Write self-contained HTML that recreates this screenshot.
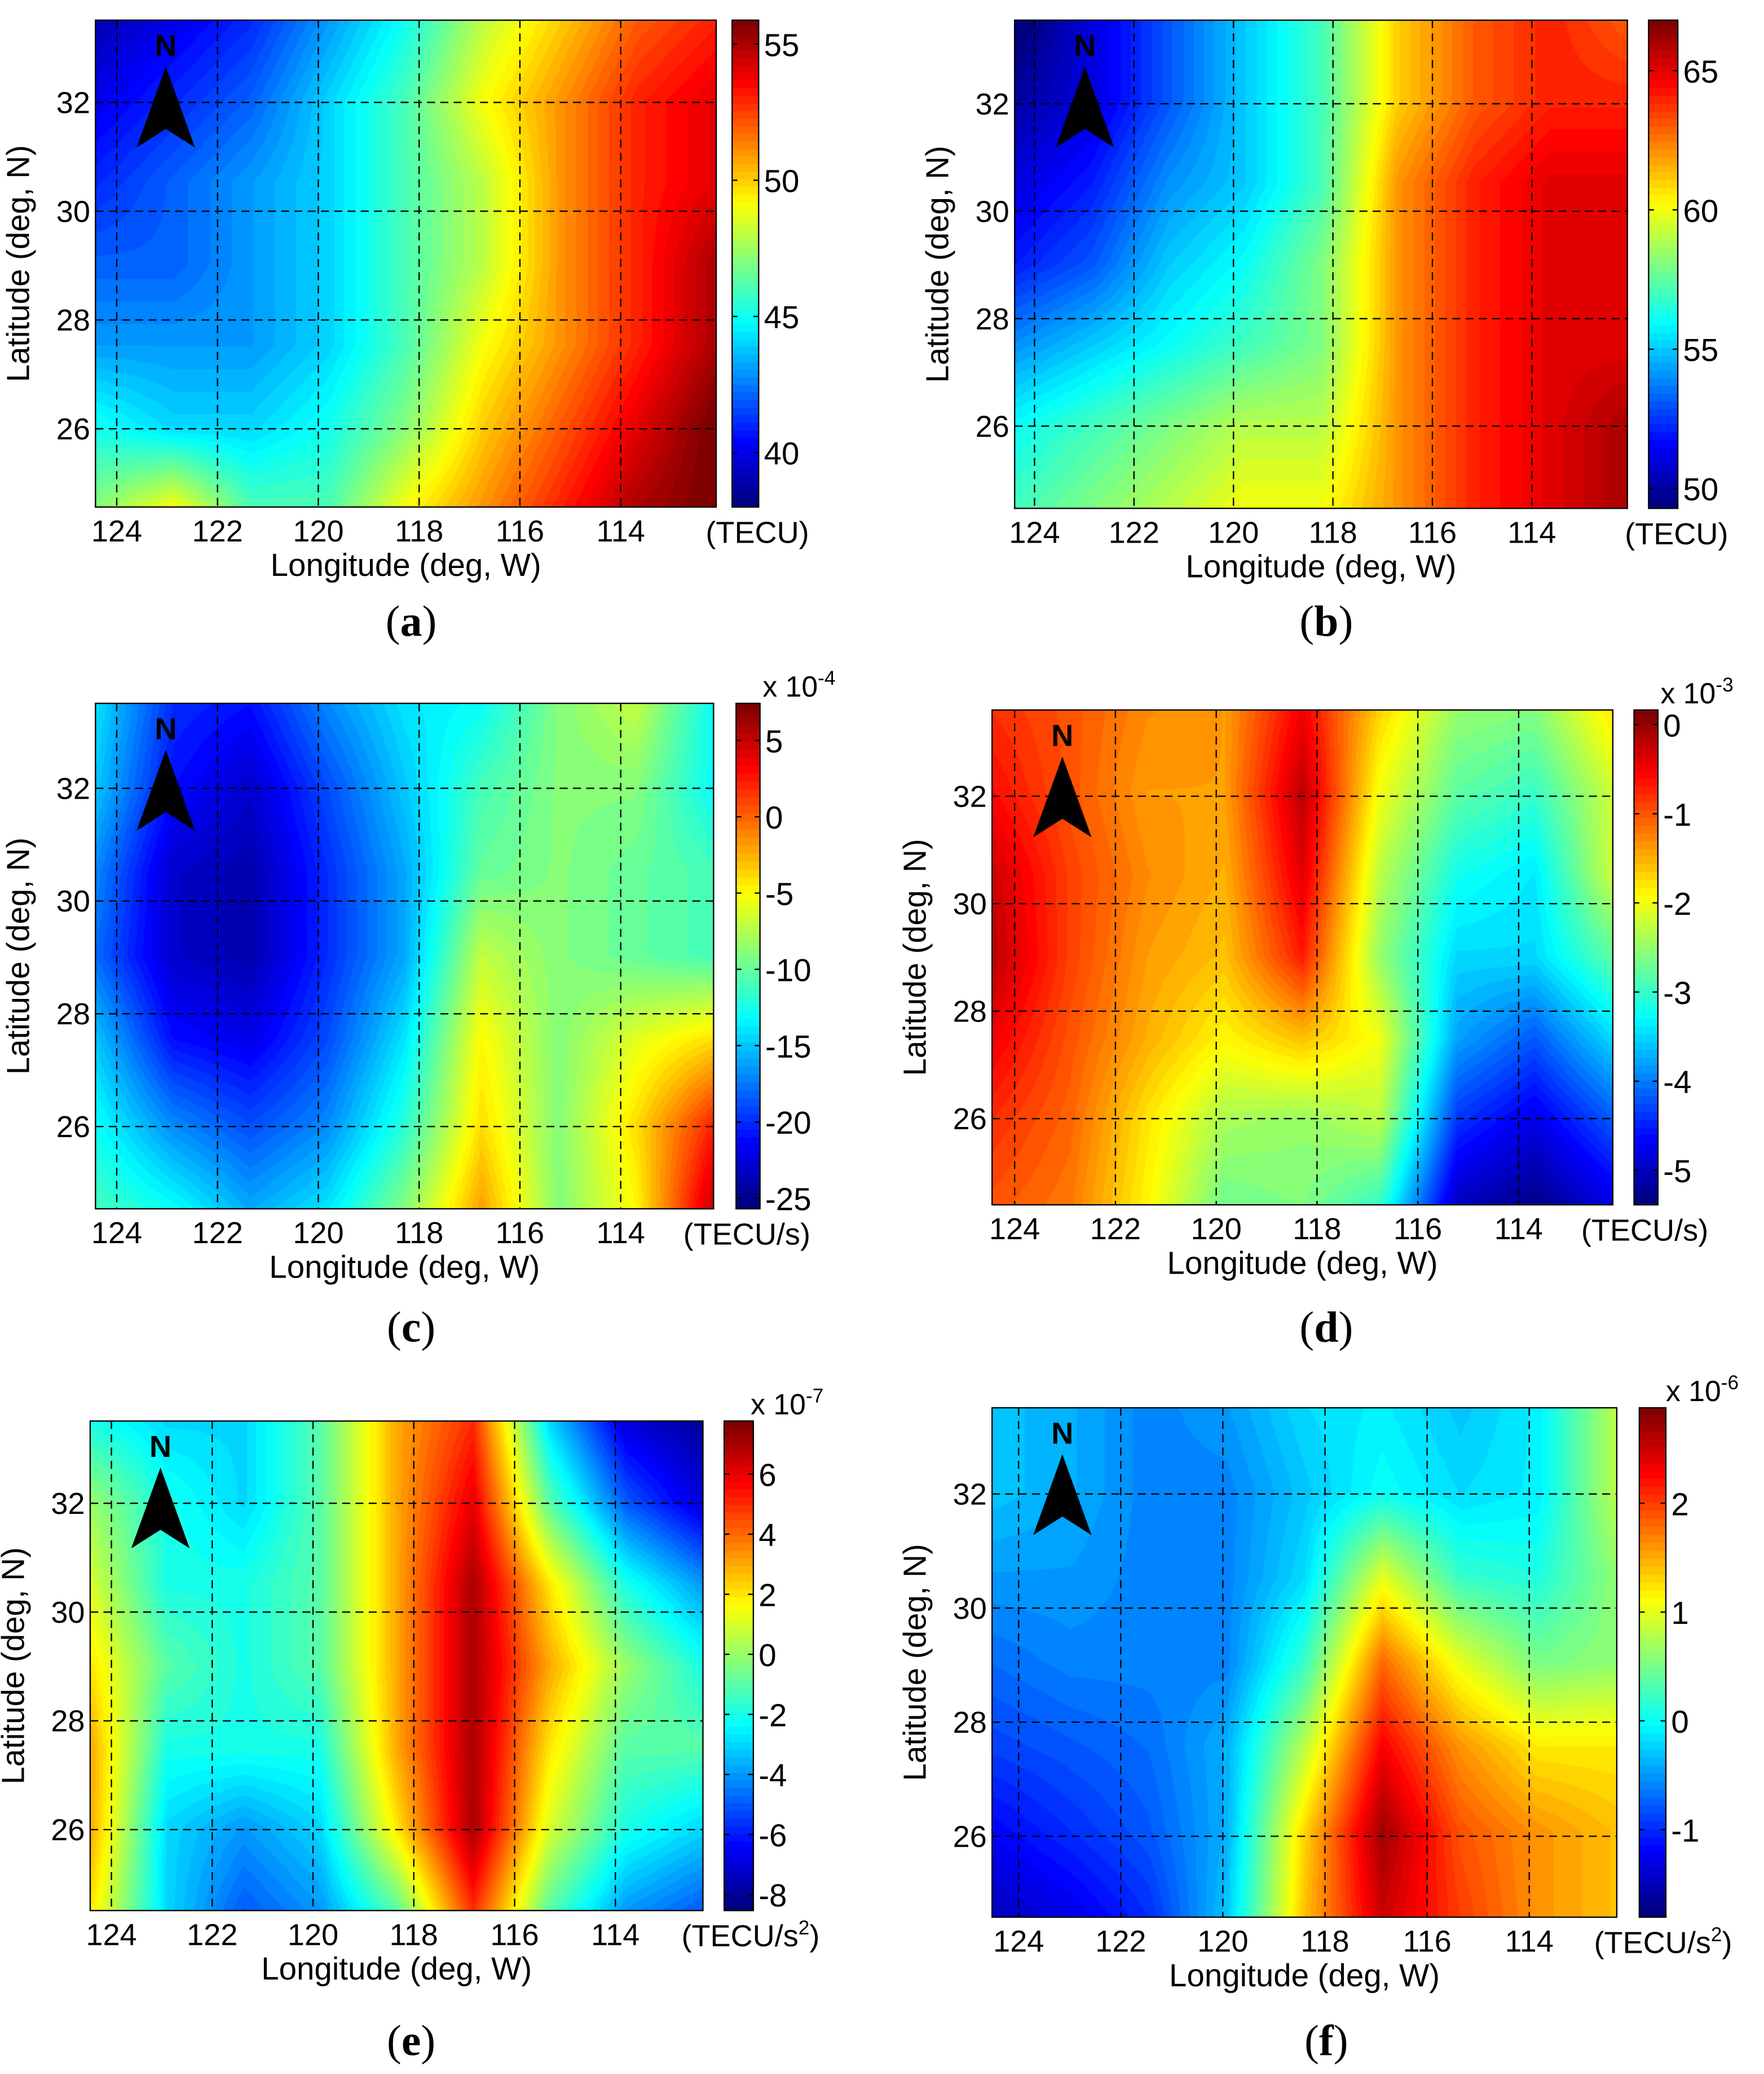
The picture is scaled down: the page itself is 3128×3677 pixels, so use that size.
<!DOCTYPE html>
<html><head><meta charset="utf-8">
<style>
html,body{margin:0;padding:0;background:#fff;}
#root{position:relative;width:3128px;height:3677px;overflow:hidden;background:#fff;}
canvas{position:absolute;}
svg{position:absolute;left:0;top:0;}
</style></head>
<body>
<div id="root">
<svg id="svg" width="3128" height="3677" viewBox="0 0 1330 1563"></svg>
</div>
<script>
// ---------- data (rows top->bottom = lat 33.5 -> 24.5, cols left->right = lon 124.4 -> 112.1) ----------
const lonTicks = [124,122,120,118,116,114];
const latTicks = [32,30,28,26];
const aVals = [
[39,40,41,43,45,48,50,52,53],
[40,41,42,44,46,49,51,53,54],
[41,42,43,44,46,48,51,53,54],
[42,42,43,44,46,48,51,53,55],
[43,43,43,44,46,49,51,53,55],
[45,44,44,45,47,50,52,54,56],
[47,49,46,46,49,51,53,55,56]];
const bVals = [
[49,51,53,55,57,61,63,64,63],
[50,51,53,55,57,61,63,64,64],
[51,52,54,55,57,62,64,65,65],
[52,53,55,56,58,62,64,65,65],
[54,55,56,57,58,62,64,65,65],
[56,57,58,59,59,62,64,65,66],
[57,58,59,60,60,62,64,65,66]];
const cVals = [
[-14,-20,-21,-17,-14,-13,-9,-7,-13],
[-15,-21,-23,-19,-15,-11,-9,-9,-13],
[-17,-23,-24,-20,-16,-10,-9,-10,-11],
[-18,-23,-24,-20,-16,-7,-9,-10,-11],
[-15,-21,-22,-19,-14,-5,-9,-6,-4],
[-13,-17,-19,-17,-12,-4,-9,-4,2],
[-11,-13,-16,-14,-9,-2,-9,-5,5]];
const dVals = [
[-0.8,-1.0,-1.3,-1.4,-0.5,-1.7,-2.5,-2.6,-1.8],
[-0.6,-1.0,-1.4,-1.4,-0.2,-2.0,-2.8,-3.0,-2.2],
[-0.3,-0.9,-1.3,-1.5,-0.4,-2.3,-3.2,-3.4,-2.2],
[-0.2,-0.9,-1.4,-1.6,-0.7,-2.5,-3.5,-3.5,-2.8],
[-0.5,-1.0,-1.5,-1.9,-1.6,-2.0,-3.8,-4.2,-3.5],
[-0.8,-1.1,-1.8,-2.4,-2.5,-2.3,-4.4,-4.8,-4.2],
[-1.0,-1.2,-1.9,-2.7,-2.6,-3.0,-5.0,-5.3,-4.8]];
const eVals = [
[-2,-3,-3,-1,3,5,-3,-7,-8],
[0,-2,-3,-1,3,6,-1,-5,-7],
[1,-2,-2,-1,3,7,2,-2,-4],
[2,-1,-2,-1,3,7,3,0,-2],
[3,-2,-2,-2,3,7,2,-1,-1],
[3,-3,-4,-3,2,7,1,-2,-3],
[2,-3,-5,-4,-1,5,-1,-4,-5]];
const fVals = [
[-0.3,-0.4,-0.6,-0.5,-0.2,-0.1,-0.3,-0.1,0.8],
[-0.3,-0.4,-0.6,-0.6,-0.3,0.0,-0.2,-0.1,0.8],
[-0.5,-0.5,-0.6,-0.6,-0.2,1.0,0.2,0.1,0.6],
[-0.7,-0.6,-0.6,-0.6,0.2,1.8,1.0,0.5,0.6],
[-0.9,-0.8,-0.7,-0.4,0.8,2.3,1.6,1.2,1.2],
[-1.2,-1.0,-0.8,-0.4,1.3,2.7,1.9,1.6,1.4],
[-1.5,-1.3,-1.0,-0.3,1.4,2.5,2.0,1.6,1.4]];
const aTicks = [55,50,45,40];
const bTicks = [65,60,55,50];
const cTicks = [5,0,-5,-10,-15,-20,-25];
const dTicks = [0,-1,-2,-3,-4,-5];
const eTicks = [6,4,2,0,-2,-4,-6,-8];
const fTicks = [2,1,0,-1];

// ---------- layout ----------
const S = 3128/1330;
const panels = [
 {id:'a',vals:aVals,ticks:aTicks,x0:72,y0:15,x1:540,y1:382,cb:[552,572],cbA:[55,33],cbB:[40,341],lon:[88,164],lat:[77,159],unit:'(TECU)',exp:null,label:[310,468]},
 {id:'b',vals:bVals,ticks:bTicks,x0:765,y0:15,x1:1227,y1:383,cb:[1243,1265],cbA:[65,53],cbB:[50,368],lon:[780,855],lat:[78,159],unit:'(TECU)',exp:null,label:[1000,468]},
 {id:'c',vals:cVals,ticks:cTicks,x0:72,y0:530,x1:538,y1:911,cb:[555,573],cbA:[5,558],cbB:[-25,903],lon:[88,164],lat:[594,679],unit:'(TECU/s)',exp:'-4',label:[310,1000]},
 {id:'d',vals:dVals,ticks:dTicks,x0:748,y0:535,x1:1216,y1:908,cb:[1232,1250],cbA:[0,546],cbB:[-5,882],lon:[765,841],lat:[600,681],unit:'(TECU/s)',exp:'-3',label:[1000,1000]},
 {id:'e',vals:eVals,ticks:eTicks,x0:68,y0:1071,x1:530,y1:1440,cb:[546,568],cbA:[6,1111],cbB:[-8,1428],lon:[84,160],lat:[1133,1215],unit:'(TECU/s',sq:true,exp:'-7',label:[310,1538]},
 {id:'f',vals:fVals,ticks:fTicks,x0:748,y0:1061,x1:1219,y1:1445,cb:[1236,1256],cbA:[2,1133],cbB:[-1,1379],lon:[768,845],lat:[1126,1212],unit:'(TECU/s',sq:true,exp:'-6',label:[1000,1538]}
];

function jet(t){t=Math.max(0,Math.min(1,t));
 const c=v=>Math.round(255*Math.max(0,Math.min(1,v)));
 return [c(1.5-Math.abs(4*t-3)),c(1.5-Math.abs(4*t-2)),c(1.5-Math.abs(4*t-1))];}

const svg=document.getElementById('svg');
const root=document.getElementById('root');
const NS='http://www.w3.org/2000/svg';
function el(tag,attrs,parent){const e=document.createElementNS(NS,tag);for(const k in attrs)e.setAttribute(k,attrs[k]);(parent||svg).appendChild(e);return e;}
function txt(x,y,s,size,anchor,parent,extra){const t=el('text',Object.assign({x:x,y:y,'font-size':size,'text-anchor':anchor||'start','font-family':'Liberation Sans, sans-serif',fill:'#000'},extra||{}),parent);t.textContent=s;return t;}

panels.forEach(p=>{
 const g=el('g',{});
 
 
 const cbY=v=>p.cbA[1]+(v-p.cbA[0])*(p.cbB[1]-p.cbA[1])/(p.cbB[0]-p.cbA[0]);
 const cbV=y=>p.cbA[0]+(y-p.cbA[1])*(p.cbB[0]-p.cbA[0])/(p.cbB[1]-p.cbA[1]);
 const cmax=cbV(p.y0), cmin=cbV(p.y1);
 const xOf=lon=>p.lon[0]+(124-lon)*(p.lon[1]-p.lon[0])/2;
 const yOf=lat=>p.lat[0]+(32-lat)*(p.lat[1]-p.lat[0])/2;
 const W=Math.round((p.x1-p.x0)*S), H=Math.round((p.y1-p.y0)*S);
 const cv=document.createElement('canvas');
 
 
 const cw=Math.round(W/2), ch=Math.round(H/2);
 cv.width=cw;cv.height=ch;
 cv.style.left=(p.x0*S)+'px';cv.style.top=(p.y0*S)+'px';cv.style.width=W+'px';cv.style.height=H+'px';
 const ctx=cv.getContext('2d');const img=ctx.createImageData(cw,ch);
 const R=p.vals.length, C=p.vals[0].length;
 for(let j=0;j<ch;j++){const fy=j/(ch-1)*(R-1);const r0=Math.min(R-2,Math.floor(fy));const ty=fy-r0;
  for(let i=0;i<cw;i++){const fx=i/(cw-1)*(C-1);const c0=Math.min(C-2,Math.floor(fx));const tx=fx-c0;
   const v=(p.vals[r0][c0]*(1-tx)+p.vals[r0][c0+1]*tx)*(1-ty)+(p.vals[r0+1][c0]*(1-tx)+p.vals[r0+1][c0+1]*tx)*ty;
   const q=Math.floor((v-cmin)/(cmax-cmin)*64)/63;
   const col=jet(q);const k=(j*cw+i)*4;img.data[k]=col[0];img.data[k+1]=col[1];img.data[k+2]=col[2];img.data[k+3]=255;}}
 ctx.putImageData(img,0,0);
 root.insertBefore(cv,svg);
 const cb=document.createElement('canvas');
 
 
 cb.width=1;cb.height=64;
 cb.style.left=(p.cb[0]*S)+'px';cb.style.top=(p.y0*S)+'px';cb.style.width=((p.cb[1]-p.cb[0])*S)+'px';cb.style.height=((p.y1-p.y0)*S)+'px';
 cb.style.imageRendering='pixelated';
 const c2=cb.getContext('2d');for(let k=0;k<64;k++){const col=jet(1-k/63);c2.fillStyle='rgb('+col.join(',')+')';c2.fillRect(0,k,1,1);}
 root.insertBefore(cb,svg);
 lonTicks.forEach(l=>{const x=xOf(l);if(x>p.x0&&x<p.x1){const ln=el('line',{x1:x,y1:p.y0,x2:x,y2:p.y1,stroke:'#000','stroke-width':1,'stroke-dasharray':'6,4'},g);}
  const t=txt(x,p.y1+26,String(l),23,'middle',g);});
 latTicks.forEach(l=>{const y=yOf(l);const ln=el('line',{x1:p.x0,y1:y,x2:p.x1,y2:y,stroke:'#000','stroke-width':1,'stroke-dasharray':'6,4'},g);
  const t=txt(p.x0-4,y+8,String(l),23,'end',g);});
 const box=el('rect',{x:p.x0,y:p.y0,width:p.x1-p.x0,height:p.y1-p.y0,fill:'none',stroke:'#000','stroke-width':1},g);
 
 const cbb=el('rect',{x:p.cb[0],y:p.y0,width:p.cb[1]-p.cb[0],height:p.y1-p.y0,fill:'none',stroke:'#000','stroke-width':1},g);
 
 p.ticks.forEach(v=>{const y=cbY(v);
  el('line',{x1:p.cb[0],y1:y,x2:p.cb[0]+4,y2:y,stroke:'#000'},g);el('line',{x1:p.cb[1]-4,y1:y,x2:p.cb[1],y2:y,stroke:'#000'},g);
  const t=txt(p.cb[1]+4,y+9,String(v),24,'start',g);});
 const xt=txt((p.x0+p.x1)/2,p.y1+52,'Longitude (deg, W)',24,'middle',g);
 const yc=(p.y0+p.y1)/2, yx=p.x0-50;
 const yt=txt(yx,yc,'Latitude (deg, N)',24,'middle',g,{transform:'rotate(-90 '+yx+' '+yc+')'});
 const ut=txt(p.cb[1]+38,p.y1+27,p.unit,23,'end',g);
 if(p.sq){const s=el('tspan',{dy:-9,'font-size':15},ut);s.textContent='2';const s2=el('tspan',{dy:9},ut);s2.textContent=')';ut.setAttribute('x',p.cb[1]+50);}
 if(p.exp){const et=txt(p.cb[0]+20,p.y0-5,'x 10',22,'start',g);
  const s=el('tspan',{dy:-9,'font-size':15},et);s.textContent=p.exp;}
 const nx=p.x0+53, ny=p.y0;
 const nt=txt(nx,ny+27,'N',23,'middle',g,{'font-weight':'bold'});
 const ar=el('polygon',{fill:'#000'},g);
 ar.setAttribute('points',(nx)+','+(ny+35)+' '+(nx+22)+','+(ny+96)+' '+(nx)+','+(ny+82)+' '+(nx-22)+','+(ny+96));
 
 const pl=txt(p.label[0],p.label[1]+11,'(',33,'middle',g,{'font-family':'Liberation Serif, serif'});
 
 const b=el('tspan',{'font-weight':'bold'},pl);b.textContent=p.id;const e2=el('tspan',{},pl);e2.textContent=')';
});
</script>
</body></html>
